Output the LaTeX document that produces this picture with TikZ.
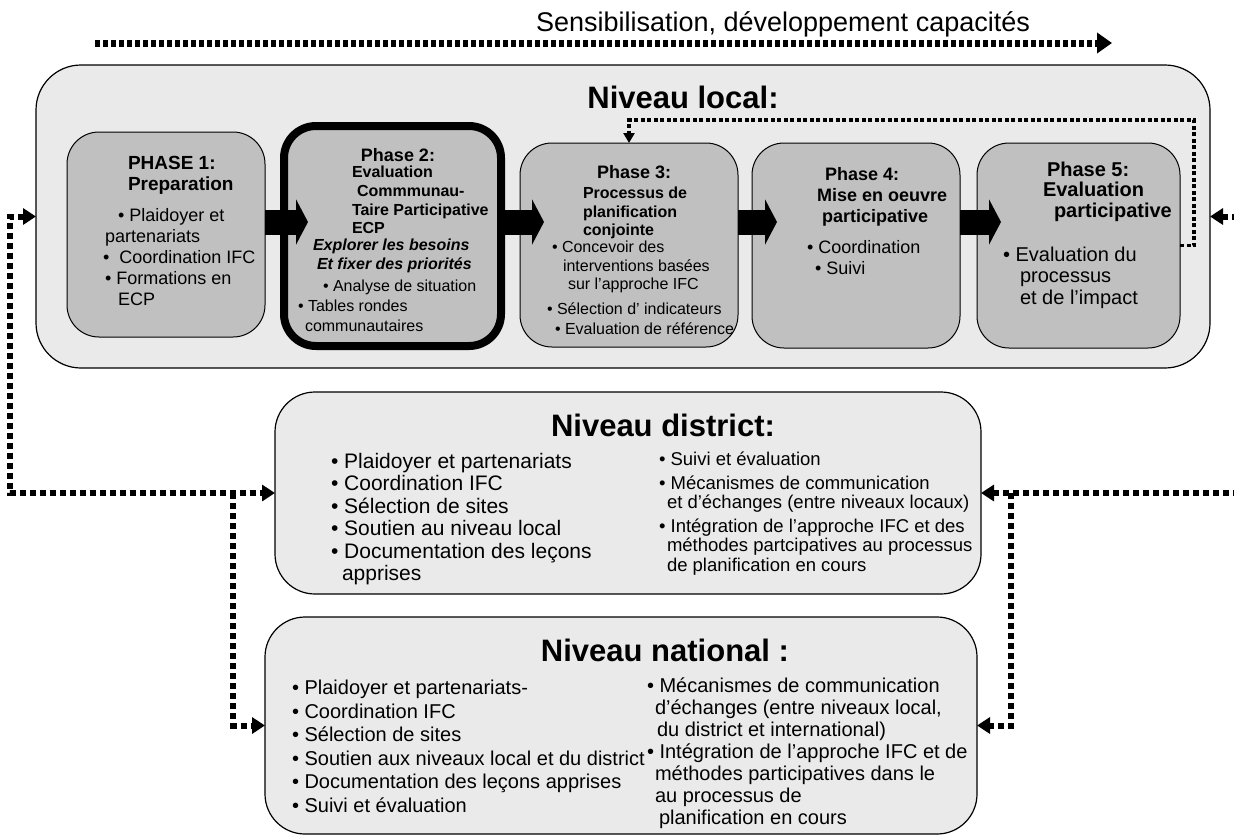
\documentclass[tikz,border=0pt]{standalone}
\usepackage{fontspec}
\setmainfont{Liberation Sans}
\usetikzlibrary{arrows.meta,calc}

\definecolor{levelgray}{RGB}{234,234,234}
\definecolor{phasegray}{RGB}{192,192,192}

\begin{document}
\begin{tikzpicture}[
		x=1pt, y=-1pt,
		every node/.style={inner sep=0pt, outer sep=0pt},
		levelbox/.style={draw, line width=1.2pt, fill=levelgray, rounded corners=40pt},
		phasebox/.style={draw, line width=1pt, fill=phasegray, rounded corners=32pt},
		txt/.style={anchor=north west, align=left},
		leveltitle/.style={font=\bfseries\fontsize{31}{33}\selectfont},
		phasearrow/.style={line width=25pt, -{Triangle[length=12pt,width=45pt]}},
		conn/.style={line width=6pt, dash pattern=on 6pt off 4pt, >={Triangle[length=13pt,width=16pt]}},
		topline/.style={line width=7pt, dash pattern=on 5pt off 3pt, -{Triangle[length=15pt,width=20pt]}},
		fbline/.style={line width=3.5pt, dash pattern=on 4pt off 2.5pt, -{Triangle[length=10pt,width=11pt]}}
	]
  \useasboundingbox (0,0) rectangle (1234,836);

  \node (sens) [font=\fontsize{27}{29}\selectfont] at (783,24) {Sensibilisation, développement capacités};
  \coordinate (topl) at (95,43);
  \coordinate (topr) at (1112,43);
  \draw[topline] (topl) -- (topr);

  \node (local) [levelbox, rounded corners=45pt, minimum width=1174pt, minimum height=303pt] at (623,216.5) {};
  \node (localtitle) [leveltitle] at (683,97) {Niveau local:};

  \node (ph1) [phasebox, minimum width=198pt, minimum height=205pt] at (166,234.5) {};
  \node (ph2) [phasebox, line width=8pt, minimum width=217pt, minimum height=220pt] at (392.5,236) {};
  \node (ph3) [phasebox, minimum width=218pt, minimum height=204pt] at (629,245) {};
  \node (ph4) [phasebox, minimum width=208pt, minimum height=205pt] at (856,245.5) {};
  \node (ph5) [phasebox, minimum width=203pt, minimum height=205pt] at (1078.5,245.5) {};

  \coordinate (ay) at (0,222);
  \draw[phasearrow] (ph1.east |- ay) -- ($(ph2.west |- ay)+(24,0)$);
  \draw[phasearrow] (ph2.east |- ay) -- ($(ph3.west |- ay)+(24,0)$);
  \draw[phasearrow] (ph3.east |- ay) -- ($(ph4.west |- ay)+(25,0)$);
  \draw[phasearrow] (ph4.east |- ay) -- ($(ph5.west |- ay)+(24,0)$);

  \node (ph1title) [txt, font=\bfseries\fontsize{19}{21}\selectfont] at (128,156) {PHASE 1:\\Preparation};
  \node (ph1text) [txt, font=\fontsize{18}{21}\selectfont] at (103,208) {\hspace*{15pt}• Plaidoyer et\\\hspace*{2pt}partenariats\\•\hspace{10pt}Coordination IFC\\\hspace*{2pt}• Formations en\\\hspace*{15pt}ECP};

  \node (ph2title) [font=\bfseries\fontsize{18}{20}\selectfont, anchor=north] at (398,148) {Phase 2:};
  \node (ph2sub) [txt, font=\bfseries\fontsize{16}{18.7}\selectfont] at (352,166) {Evaluation\\\hspace*{5pt}Commmunau-\\Taire Participative\\ECP};
  \node (ph2goal) [txt, font=\bfseries\itshape\fontsize{16}{19}\selectfont] at (313,239) {Explorer les besoins\\\hspace*{4pt}Et fixer des priorités};
  \node (ph2text) [txt, font=\fontsize{16}{20}\selectfont] at (298,280) {\hspace*{25pt}• Analyse de situation\\• Tables rondes\\\hspace*{7pt}communautaires};

  \node (ph3title) [txt, font=\bfseries\fontsize{18}{20}\selectfont] at (597,165) {Phase 3:};
  \node (ph3sub) [txt, font=\bfseries\fontsize{16}{18.5}\selectfont] at (583,187) {Processus de\\planification\\conjointe};
  \node (ph3text) [txt, font=\fontsize{16}{18.5}\selectfont] at (552,241) {• Concevoir des\\\hspace*{11pt}interventions basées\\\hspace*{16pt}sur l’approche IFC};
  \node (ph3more) [txt, font=\fontsize{16}{20}\selectfont] at (547,303) {• Sélection d’ indicateurs\\\hspace*{8pt}• Evaluation de référence};

  \node (ph4title) [txt, font=\bfseries\fontsize{18}{21}\selectfont] at (817,167) {\hspace*{8pt}Phase 4:\\Mise en oeuvre\\\hspace*{5pt}participative};
  \node (ph4text) [txt, font=\fontsize{18}{21.5}\selectfont] at (807,240) {• Coordination\\\hspace*{8pt}• Suivi};

  \node (ph5title) [txt, font=\bfseries\fontsize{20}{20.5}\selectfont] at (1043,162) {\hspace*{4pt}Phase 5:\\Evaluation\\\hspace*{11pt}participative};
  \node (ph5text) [txt, font=\fontsize{20}{21.5}\selectfont] at (1003,247) {• Evaluation du\\\hspace*{17pt}processus\\\hspace*{17pt}et de l’impact};

  \coordinate (fbcorner) at (1194,120);
  \draw[fbline] (ph5.east) -| (fbcorner) -| (ph3.north);

  \node (district) [levelbox, minimum width=706pt, minimum height=202pt] at (628,493) {};
  \node (disttitle) [leveltitle] at (663,425) {Niveau district:};
  \node (distleft) [txt, font=\fontsize{21}{22.5}\selectfont] at (331,453) {• Plaidoyer et partenariats\\• Coordination IFC\\• Sélection de sites\\• Soutien au niveau local\\• Documentation des leçons\\\hspace*{11pt}apprises};
  \node (distright) [txt, font=\fontsize{18.5}{19.5}\selectfont] at (659,452) {• Suivi et évaluation\\[4pt]• Mécanismes de communication\\\hspace*{8pt}et d’échanges (entre niveaux locaux)\\[4pt]• Intégration de l’approche IFC et des\\\hspace*{8pt}méthodes partcipatives au processus\\\hspace*{8pt}de planification en cours};

  \node (national) [levelbox, minimum width=712pt, minimum height=217pt] at (621,725.5) {};
  \node (nattitle) [leveltitle] at (665,650) {Niveau national :};
  \node (natleft) [txt, font=\fontsize{20}{23.5}\selectfont] at (292,680) {• Plaidoyer et partenariats-\\• Coordination IFC\\• Sélection de sites\\• Soutien aux niveaux local et du district\\• Documentation des leçons apprises\\• Suivi et évaluation};
  \node (natright) [txt, font=\fontsize{20}{22}\selectfont] at (647,678) {• Mécanismes de communication\\\hspace*{8pt}d’échanges (entre niveaux local,\\\hspace*{10pt}du district et international)\\• Intégration de l’approche IFC et de\\\hspace*{8pt}méthodes participatives dans le\\\hspace*{8pt}au processus de\\\hspace*{12pt}planification en cours};

  \coordinate (lcorner) at (10,493);
  \coordinate (lsplit) at (233,493);
  \coordinate (redge1) at (1234,216.5);
  \coordinate (redge2) at (1234,493);
  \coordinate (rsplit) at (1011,493);
  \draw[conn, <->] (local.west) -| (lcorner) -- (district.west);
  \draw[conn, ->] (lsplit) |- (national.west);
  \draw[conn, <-] (local.east) -- (redge1);
  \draw[conn, <-] (district.east) -- (redge2);
  \draw[conn, ->] (rsplit) |- (national.east);
\end{tikzpicture}
\end{document}
